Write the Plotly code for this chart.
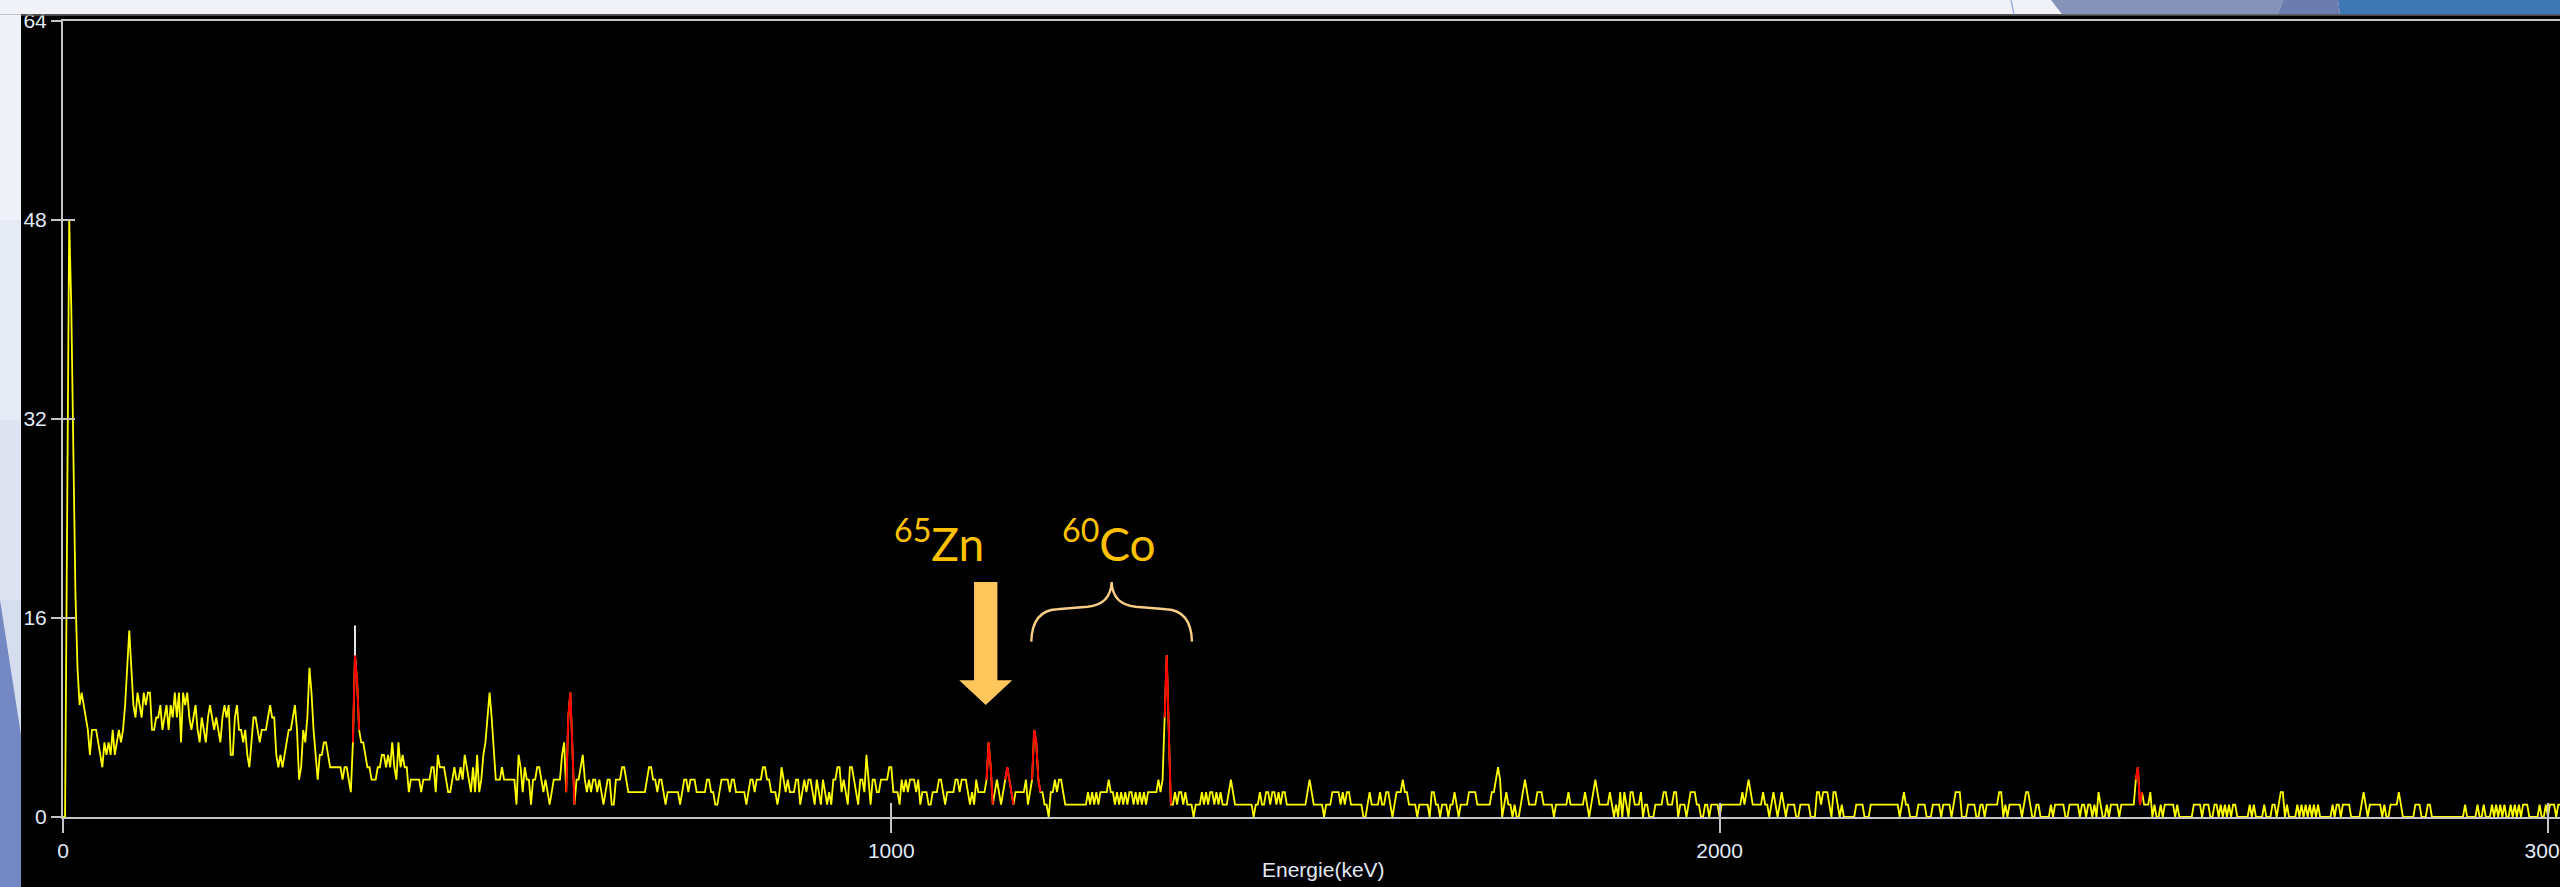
import plotly.graph_objects as go

# ---------------- data ----------------
KEV_PER_CHANNEL = 2.5

counts_c0000 = [
    0, 0, 24, 48, 41, 27, 18, 12, 9, 10, 9, 8, 7, 5, 7, 7, 7, 6, 5, 4,
    6, 5, 6, 5, 7, 5, 6, 7, 6, 7, 9, 12, 15, 12, 9, 8, 10, 9, 8, 10,
    9, 10, 10, 7, 7, 8, 8, 9, 7, 8, 9, 7, 9, 8, 10, 8, 10, 6, 10, 9,
    10, 8, 7, 8, 9, 7, 6, 8, 7, 6, 8, 9, 8, 7, 8, 7, 6, 8, 9, 8,
    9, 5, 5, 8, 9, 7, 7, 6, 7, 5, 4, 6, 8, 8, 7, 6, 7, 7, 7, 8,
    9, 8, 8, 5, 4, 5, 4, 5, 6, 7, 7, 8, 9, 7, 3, 4, 7, 6, 8, 12,
    10, 7, 5, 3, 5, 5, 6, 6, 5, 4, 4, 4, 4, 4, 4, 3, 4, 4, 3, 2,
    6, 13, 11, 7, 6, 6, 5, 4, 4, 3, 3, 3, 4, 4, 5, 5, 4, 5, 4, 6,
    4, 3, 6, 4, 5, 4, 4, 2, 3, 3, 3, 3, 3, 2, 3, 3, 3, 3, 4, 4,
    2, 5, 4, 4, 4, 3, 2, 2, 3, 4, 3, 3, 4, 3, 5, 4, 3, 2, 4, 2,
    5, 2, 3, 5, 6, 8, 10, 8, 5, 3, 3, 3, 4, 3, 3, 3, 3, 3, 3, 1,
    5, 4, 2, 4, 3, 3, 1, 3, 3, 4, 4, 3, 2, 3, 2, 1, 2, 3, 3, 3,
    3, 5, 6, 2, 8, 10, 5, 1, 3, 3, 4, 5, 3, 2, 3, 2, 3, 3, 2, 3,
]
counts_c0260 = [
    2, 1, 2, 3, 3, 1, 1, 3, 3, 3, 4, 4, 3, 2, 2, 2, 2, 2, 2, 2,
    2, 2, 3, 4, 4, 3, 3, 2, 3, 3, 2, 1, 2, 2, 2, 2, 2, 2, 1, 2,
    3, 3, 2, 3, 3, 3, 2, 2, 2, 2, 2, 3, 3, 2, 2, 1, 1, 2, 3, 3,
    3, 3, 2, 3, 3, 2, 2, 2, 2, 2, 1, 2, 3, 3, 2, 3, 3, 3, 4, 4,
    3, 3, 2, 2, 2, 1, 2, 4, 3, 2, 3, 2, 2, 2, 3, 3, 1, 2, 3, 2,
    3, 3, 2, 1, 3, 2, 1, 3, 2, 1, 2, 1, 3, 3, 4, 4, 2, 3, 2, 1,
    4, 4, 3, 2, 1, 3, 3, 2, 5, 3, 1, 3, 3, 2, 2, 3, 3, 3, 3, 4,
    4, 2, 2, 2, 1, 3, 2, 3, 2, 3, 3, 3, 2, 3, 1, 2, 2, 2, 1, 1,
    2, 2, 2, 3, 3, 2, 1, 2, 2, 2, 2, 3, 3, 2, 3, 3, 3, 2, 1, 2,
    1, 3, 2, 2,
]
counts_c0444 = [
    2, 2, 3, 6, 4, 1, 2, 3, 2, 1, 2, 3, 4, 3, 2, 1, 2, 2, 2, 2,
    2, 3, 1, 2, 3, 7, 6, 3, 2, 2, 1, 1, 0, 2, 2, 3, 2, 3, 3, 2,
    1, 1, 1, 1, 1, 1, 1, 1, 1, 1, 1, 2, 1, 2, 1, 2, 1, 2, 2, 2,
    2, 3, 2, 2, 1, 2, 1, 2, 1, 2, 1, 2, 2, 1, 2, 1, 2, 1, 2, 1,
    2, 2, 2, 2, 2, 3, 2, 3, 8, 13, 7, 1, 1, 2, 1, 2, 2, 1, 2, 1,
    1, 1, 0, 1, 1, 1, 2, 1, 2, 1, 2, 2, 1, 2, 1, 2,
]
counts_c0560 = [
    1, 1, 1, 2, 3, 2, 1, 1, 1, 1, 1, 1, 1, 1, 1, 0, 1, 1, 2, 1,
    1, 2, 2, 1, 2, 2, 1, 2, 1, 2, 2, 1, 1, 1, 1, 1, 1, 1, 1, 1,
    1, 2, 3, 2, 1, 1, 1, 1, 1, 0, 1, 1, 1, 2, 2, 2, 2, 1, 2, 1,
    2, 2, 1, 1, 1, 1, 1, 1, 0, 0, 1, 2, 1, 1, 1, 1, 2, 1, 1, 2,
    2, 1, 0, 1, 2, 2, 2, 3, 2, 2, 1, 1, 1, 1, 0, 1, 1, 1, 1, 1,
    0, 2, 2, 1, 1, 0, 1, 1, 1, 0, 1, 1, 2, 1, 0, 1, 1, 1, 1, 2,
    2, 2, 2, 1, 1, 1, 1, 1, 1, 1, 2, 2, 3, 4, 3, 0, 1, 2, 1, 1,
    0, 1, 0, 0, 1, 2, 3, 2, 1, 1, 1, 1, 2, 2, 2, 1, 1, 1, 1, 1,
    0, 1, 1, 1,
]
counts_c0724 = [
    1, 1, 1, 2, 1, 1, 1, 1, 1, 1, 1, 2, 1, 0, 1, 2, 3, 2, 1, 1,
    1, 1, 1, 2, 1, 0, 1, 0, 2, 0, 2, 1, 0, 2, 2, 1, 1, 1, 2, 0,
    1, 1, 0, 0, 0, 1, 1, 1, 1, 2, 2, 1, 1, 1, 2, 2, 0, 1, 1, 1,
    0, 1, 2, 2, 2, 1, 1, 0, 0, 1, 1, 0, 1, 1, 1, 1, 0, 1, 1, 1,
    1, 1, 1, 1, 1, 1, 1, 2, 1, 2, 3, 2, 1, 1, 1, 1, 1, 2, 1, 1,
    0, 1, 2, 1, 0, 1, 2, 1, 0, 1, 1, 1, 1, 0, 0, 1, 1, 1, 1, 1,
    0, 0, 0, 2, 2, 1, 2, 2, 2, 1, 0, 2, 2, 1, 0, 1, 0, 0, 0, 0,
    0, 0, 1, 1, 1, 1, 0, 0, 0, 1, 1, 1, 1, 1, 1, 1, 1, 1, 1, 1,
    1, 1, 1, 0,
]
counts_c0888 = [
    1, 2, 1, 1, 0, 0, 0, 0, 1, 1, 1, 1, 0, 0, 0, 1, 1, 1, 1, 0,
    1, 1, 1, 1, 0, 1, 2, 2, 2, 0, 0, 0, 1, 1, 1, 1, 0, 0, 1, 1,
    0, 1, 1, 1, 1, 1, 1, 2, 2, 0, 1, 0, 1, 1, 1, 1, 1, 1, 0, 1,
    2, 2, 1, 0, 0, 1, 1, 0, 0, 0, 0, 0, 1, 0, 1, 1, 1, 1, 1, 0,
    0, 1, 1, 1, 1, 1, 0, 1, 1, 0, 1, 1, 0, 1, 0, 2, 1, 0, 0, 1,
    0, 1, 1, 1, 1, 0, 1, 1, 1, 1, 1, 1, 1, 3, 4, 1, 2, 1, 1, 1,
    2, 0, 1, 0, 0, 1, 0, 1, 1, 1, 1, 1, 0, 1, 0, 0, 0, 0, 0, 0,
    0, 1, 1, 1, 1, 0, 1, 1, 1, 0, 0, 1, 1, 0, 1, 0, 1, 0, 1, 0,
    1, 1, 0, 0,
]
counts_c1052 = [
    0, 0, 0, 0, 1, 0, 1, 0, 0, 0, 0, 1, 0, 0, 0, 1, 1, 0, 1, 2,
    2, 0, 1, 0, 0, 0, 0, 1, 0, 1, 0, 1, 0, 1, 0, 1, 0, 1, 0, 0,
    0, 0, 0, 0, 1, 0, 1, 1, 0, 1, 1, 1, 1, 0, 0, 0, 0, 0, 1, 2,
    1, 0, 1, 1, 1, 1, 1, 1, 0, 1, 0, 0, 1, 1, 1, 1, 2, 1, 0, 0,
    0, 0, 0, 0, 1, 1, 1, 0, 0, 0, 1, 1, 0, 0, 0, 0, 0, 0, 0, 0,
    0, 0, 0, 0, 0, 0, 0, 0, 1, 0, 0, 0, 0, 0, 1, 0, 0, 1, 0, 0,
    0, 1, 0, 1, 0, 1, 0, 1, 0, 0, 1, 0, 1, 0, 1, 0, 1, 1, 1, 0,
    0, 0, 0, 0, 1, 0, 0, 1, 0, 1, 1, 1, 0, 1, 1,
]
segment_starts = [0, 260, 444, 560, 724, 888, 1052]
segment_counts = [counts_c0000, counts_c0260, counts_c0444, counts_c0560,
                  counts_c0724, counts_c0888, counts_c1052]

# regions of interest (channel ranges) drawn in red
roi_first = [140, 243, 446, 455, 468, 532, 1001]
roi_last = [143, 247, 449, 459, 472, 535, 1004]

# cursor marker above the 352 keV peak
cursor_channel = 141
cursor_top = 15.4

# nuclide labels
zn_label = "<sup>65</sup>Zn"
co_label = "<sup>60</sup>Co"
zn_kev = 1114          # 65Zn line pointed by the arrow
co_kev = [1173, 1332]  # 60Co lines under the brace

x_ticks = [0, 1000, 2000, 3000]
y_ticks = [0, 16, 32, 48, 64]
x_title = "Energie(keV)"

# ---------------- build series ----------------
by_channel = {}
for start, vals in zip(segment_starts, segment_counts):
    for i, v in enumerate(vals):
        by_channel[start + i] = v
channels = sorted(by_channel)
energy = [c * KEV_PER_CHANNEL for c in channels]
counts = [by_channel[c] for c in channels]

roi_x, roi_y = [], []
for a, b in zip(roi_first, roi_last):
    for c in range(a, b + 1):
        roi_x.append(c * KEV_PER_CHANNEL)
        roi_y.append(by_channel[c])
    roi_x.append(None)
    roi_y.append(None)

# ---------------- figure ----------------
W, H = 2560, 887
ML, MT, MB = 63, 21, 70
PW, PH = W - ML, H - MT - MB
X_RANGE = [0, 3014.6]
Y_RANGE = [0, 64]

def px(xp):
    return (xp - ML) / PW

def py(yp):
    return (H - MB - yp) / PH

fig = go.Figure()
fig.add_trace(go.Scatter(x=energy, y=counts, mode="lines",
                         line=dict(color="#FFFF00", width=1.8),
                         hoverinfo="skip", showlegend=False))
fig.add_trace(go.Scatter(x=roi_x, y=roi_y, mode="lines",
                         line=dict(color="#FF0000", width=2),
                         connectgaps=False, hoverinfo="skip", showlegend=False))
ce = cursor_channel * KEV_PER_CHANNEL
fig.add_trace(go.Scatter(x=[ce, ce], y=[by_channel[cursor_channel], cursor_top],
                         mode="lines", line=dict(color="#FFFFFF", width=1.8),
                         hoverinfo="skip", showlegend=False))
# dummy trace for the overlay axes (inner tick halves)
fig.add_trace(go.Scatter(x=[None], y=[None], xaxis="x2", yaxis="y2",
                         hoverinfo="skip", showlegend=False))

tick_font = dict(family="Liberation Sans, Arial, sans-serif", size=21, color="#E2EAF6")
axis_col = "#C4C4C4"

fig.update_layout(
    width=W, height=H,
    margin=dict(l=ML, r=0, t=MT, b=MB, pad=0, autoexpand=False),
    paper_bgcolor="#000000", plot_bgcolor="#000000",
    showlegend=False,
    xaxis=dict(range=X_RANGE, tickmode="array", tickvals=x_ticks,
               ticks="outside", ticklen=14, tickwidth=2, tickcolor=axis_col,
               showline=True, linecolor=axis_col, linewidth=2, mirror=True,
               showgrid=False, zeroline=False, tickfont=tick_font,
               ticklabeloverflow="allow", automargin=False),
    yaxis=dict(range=Y_RANGE, tickmode="array", tickvals=y_ticks,
               ticks="outside", ticklen=10, tickwidth=2, tickcolor=axis_col,
               showline=True, linecolor=axis_col, linewidth=2, mirror=False,
               showgrid=False, zeroline=False, tickfont=tick_font,
               ticklabeloverflow="allow", automargin=False),
    xaxis2=dict(overlaying="x", matches="x", anchor="y", side="bottom",
                tickmode="array", tickvals=x_ticks[1:], ticks="inside",
                ticklen=14, tickwidth=2, tickcolor=axis_col, automargin=False,
                showticklabels=False, showline=False, showgrid=False, zeroline=False),
    yaxis2=dict(overlaying="y", matches="y", anchor="x", side="left",
                tickmode="array", tickvals=y_ticks[1:4], ticks="inside",
                ticklen=12, tickwidth=2, tickcolor=axis_col, automargin=False,
                showticklabels=False, showline=False, showgrid=False, zeroline=False),
)

# axis title
fig.add_annotation(text=x_title, xref="paper", yref="paper",
                   x=px(1323), y=py(869), xanchor="center", yanchor="middle",
                   showarrow=False, font=tick_font)

# nuclide labels
label_font = dict(family="Lato, sans-serif", size=46, color="#FFC000")
fig.add_annotation(text=zn_label, x=1058, y=22.2, xref="x", yref="y",
                   xanchor="center", yanchor="middle", showarrow=False, font=label_font)
fig.add_annotation(text=co_label, x=1263, y=22.2, xref="x", yref="y",
                   xanchor="center", yanchor="middle", showarrow=False, font=label_font)

# block arrow toward the 65Zn line
hs, hh, top, neck, tip = 14.1, 32.0, 18.9, 11.0, 9.0
arrow_path = (f"M {zn_kev-hs},{top} L {zn_kev+hs},{top} L {zn_kev+hs},{neck} "
              f"L {zn_kev+hh},{neck} L {zn_kev},{tip} L {zn_kev-hh},{neck} "
              f"L {zn_kev-hs},{neck} Z")
fig.add_shape(type="path", path=arrow_path, xref="x", yref="y",
              fillcolor="#FFC65C", line=dict(width=0), layer="above")

# brace over the 60Co lines
bl, br = co_kev[0] - 4, co_kev[1] + 31
bm = (bl + br) / 2
y_end, y_flat, y_tip = 14.1, 16.7, 18.9
brace = (f"M {bl},{y_end} Q {bl+1},{y_flat-0.1} {bl+31},{y_flat} "
         f"L {bm-29},{y_flat+0.2} Q {bm-1},{y_flat+0.4} {bm},{y_tip} "
         f"Q {bm+1},{y_flat+0.4} {bm+29},{y_flat+0.2} "
         f"L {br-31},{y_flat} Q {br-1},{y_flat-0.1} {br},{y_end}")
fig.add_shape(type="path", path=brace, xref="x", yref="y",
              line=dict(color="#F8CD86", width=2.4), layer="above")

# ---- slide background around the screenshot (decoration) ----
def rect(x0, y0, x1, y1, color):
    fig.add_shape(type="rect", xref="paper", yref="paper",
                  x0=px(x0), x1=px(x1), y0=py(y1), y1=py(y0),
                  fillcolor=color, line=dict(width=0), layer="above")

def poly(points, color):
    d = "M " + " L ".join(f"{px(a)},{py(b)}" for a, b in points) + " Z"
    fig.add_shape(type="path", xref="paper", yref="paper", path=d,
                  fillcolor=color, line=dict(width=0), layer="above")

rect(0, 0, W, 14.3, "#F0F2F8")
rect(21, 14.3, W, 15.8, "#5C5C5C")
rect(0, 14.3, 21, 220, "#EEF1F8")
rect(0, 220, 21, 420, "#E7EBF5")
rect(0, 420, 21, 600, "#DEE4F1")
rect(0, 600, 21, H, "#D6DDEE")
poly([(0, 600), (21, 735), (21, H), (0, H)], "#7488C3")
poly([(2051, 0), (2283, 0), (2278, 14.3), (2062, 14.3)], "#8593B9")
poly([(2283, 0), (2338, 0), (2340, 14.3), (2278, 14.3)], "#6D7CAE")
poly([(2338, 0), (W, 0), (W, 14.3), (2340, 14.3)], "#3E78B4")
fig.add_shape(type="line", xref="paper", yref="paper",
              x0=px(2011), y0=py(0), x1=px(2014), y1=py(14.3),
              line=dict(color="#9DB0DC", width=1.5), layer="above")

fig.write_html("out.html", config={"displayModeBar": False})
